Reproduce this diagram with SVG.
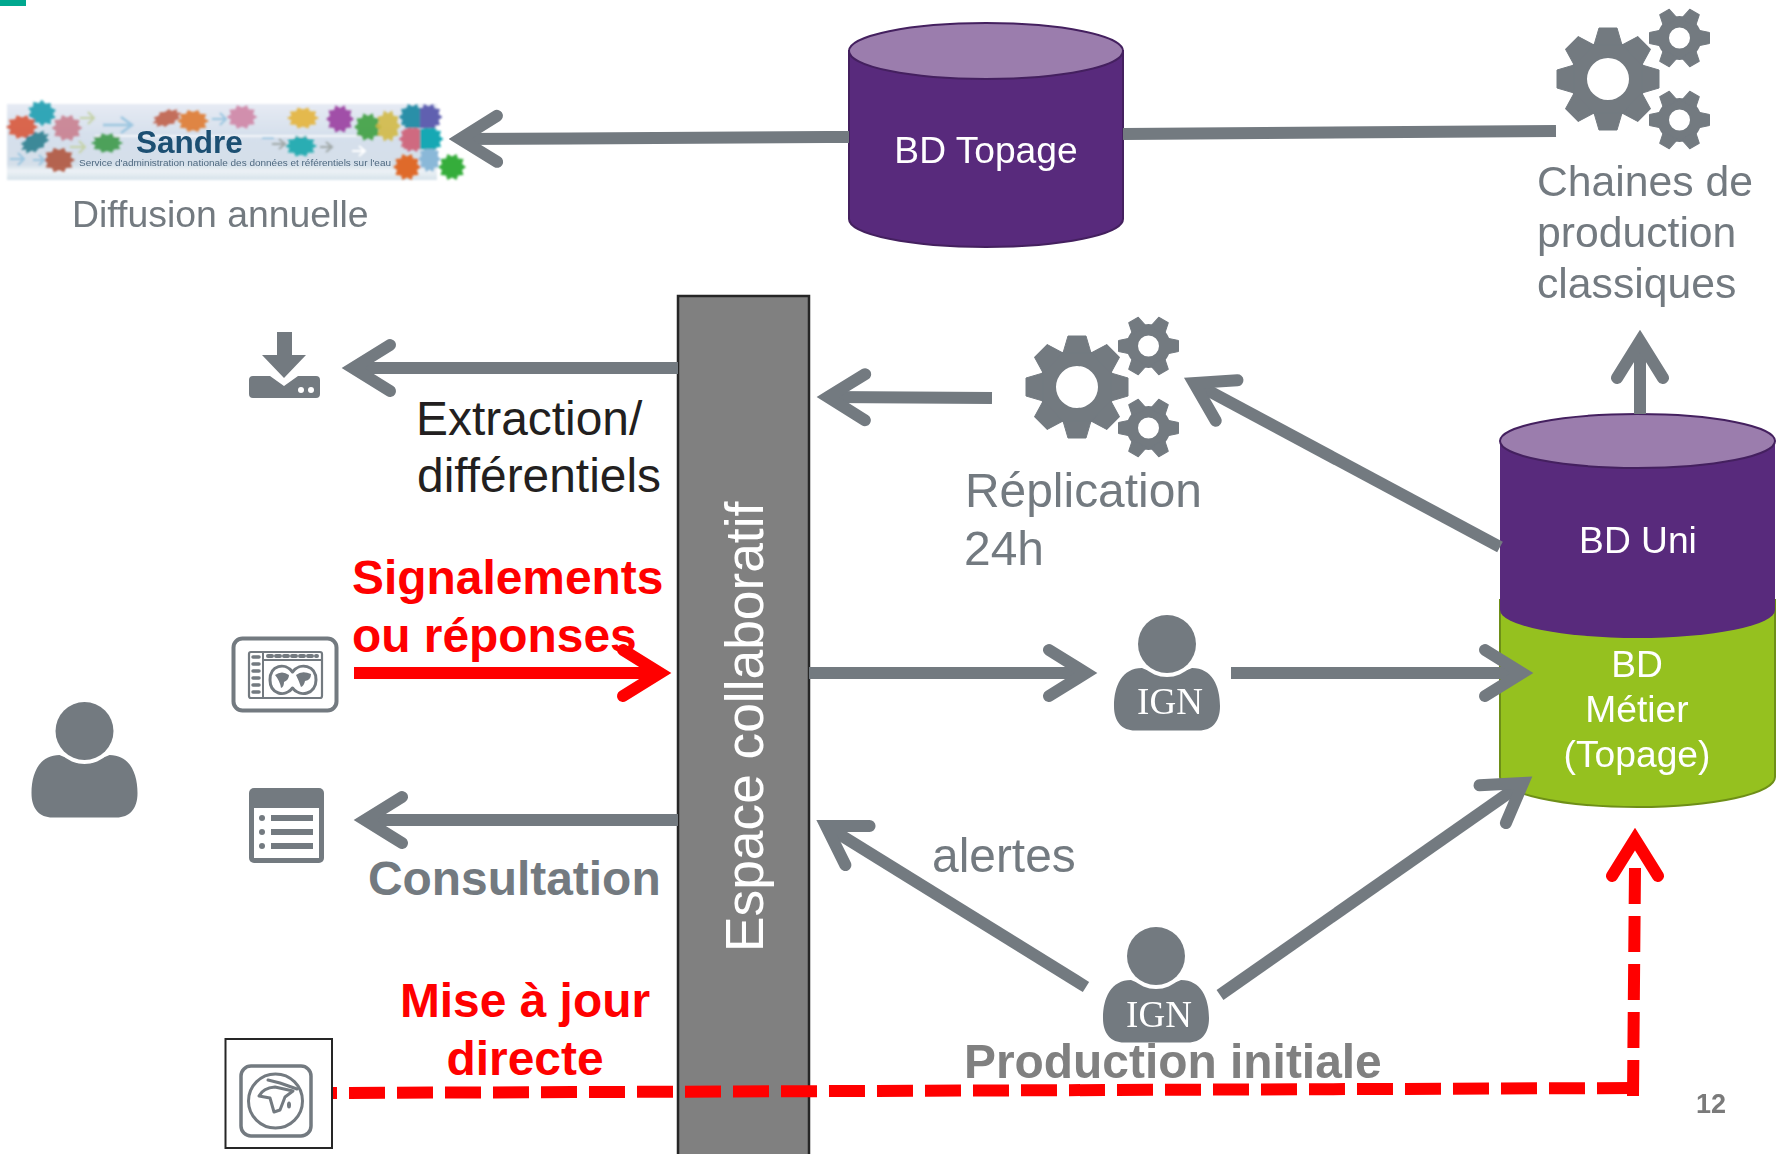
<svg xmlns="http://www.w3.org/2000/svg" width="1777" height="1154" viewBox="0 0 1777 1154">
<style>
text{font-family:"Liberation Sans",Arial,sans-serif}
.g{fill:#737a80}
.lbl{font-size:47.9px}
.b{font-weight:bold}
.red{fill:#f00}
.w{fill:#fff;font-size:37.2px;text-anchor:middle}
.ign{font-family:"Liberation Serif","Times New Roman",serif;font-size:37px;fill:#fff;text-anchor:middle}
.shaft{fill:none;stroke:#737a80;stroke-width:12}
.rshaft{fill:none;stroke:#f00;stroke-width:12}
.ic{fill:none;stroke:#737a80;stroke-linecap:round;stroke-linejoin:round}
.pz{fill-opacity:.9}
</style>
<defs>
<marker id="ah" markerUnits="userSpaceOnUse" markerWidth="100" markerHeight="100" viewBox="-60 -50 100 100" refX="0" refY="0" orient="auto"><path d="M-37,-23 L0,0 L-37,23" fill="none" stroke="#737a80" stroke-width="12" stroke-linecap="round" stroke-linejoin="miter" stroke-miterlimit="6"/></marker>
<marker id="ahr" markerUnits="userSpaceOnUse" markerWidth="100" markerHeight="100" viewBox="-60 -50 100 100" refX="0" refY="0" orient="auto"><path d="M-37,-23 L0,0 L-37,23" fill="none" stroke="#f00" stroke-width="12" stroke-linecap="round" stroke-linejoin="miter" stroke-miterlimit="6"/></marker>
<polygon id="tb" points="-9,-51 9,-51 14,-34 -14,-34" stroke="#737a80" stroke-width="1" stroke-linejoin="round"/>
<polygon id="ts" points="-5.5,-30 5.5,-30 8,-18 -8,-18" stroke="#737a80" stroke-width="1" stroke-linejoin="round"/>
<g id="gearB" class="g">
<path fill-rule="evenodd" d="M-38,0A38,38 0 1 1 38,0A38,38 0 1 1 -38,0ZM-21,0A21,21 0 1 0 21,0A21,21 0 1 0 -21,0Z"/>
<use href="#tb"/><use href="#tb" transform="rotate(45)"/><use href="#tb" transform="rotate(90)"/><use href="#tb" transform="rotate(135)"/><use href="#tb" transform="rotate(180)"/><use href="#tb" transform="rotate(225)"/><use href="#tb" transform="rotate(270)"/><use href="#tb" transform="rotate(315)"/>
</g>
<g id="gearS" class="g">
<path fill-rule="evenodd" d="M-22,0A22,22 0 1 1 22,0A22,22 0 1 1 -22,0ZM-10.5,0A10.5,10.5 0 1 0 10.5,0A10.5,10.5 0 1 0 -10.5,0Z"/>
<use href="#ts" transform="rotate(30)"/><use href="#ts" transform="rotate(90)"/><use href="#ts" transform="rotate(150)"/><use href="#ts" transform="rotate(210)"/><use href="#ts" transform="rotate(270)"/><use href="#ts" transform="rotate(330)"/>
</g>
<g id="gears"><use href="#gearB"/><use href="#gearS" x="71.5" y="-41"/><use href="#gearS" x="71.5" y="41"/></g>
<g id="person">
<path class="g" d="M-53,62C-53,42 -45,24 -25,24C-14,30 14,30 25,24C45,24 53,42 53,62C53,78 45,86.500 32,86.500L-32,86.500C-45,86.500 -53,78 -53,62Z"/>
<circle r="33" fill="#fff"/><circle r="29" class="g"/>
</g>
<polygon id="pz" points="14,0 10,3 11.5,8 6,8.500 4.500,13 0,10.500 -4.500,13 -6,8.500 -11.500,8 -10,3 -14,0 -10,-3 -11.500,-8 -6,-8.500 -4.500,-13 0,-10.500 4.500,-13 6,-8.500 11.500,-8 10,-3"/>
<linearGradient id="sg" x1="0" y1="0" x2="0" y2="1"><stop offset="0" stop-color="#e6eaf4"/><stop offset=".4" stop-color="#d6e0ec"/><stop offset=".8" stop-color="#d4dfe9"/><stop offset=".88" stop-color="#edf2f6"/><stop offset="1" stop-color="#d6e2ea"/></linearGradient>
<filter id="soft" x="-5%" y="-5%" width="110%" height="110%"><feGaussianBlur stdDeviation="1"/></filter>
<filter id="soft2" x="-5%" y="-5%" width="110%" height="110%"><feGaussianBlur stdDeviation=".45"/></filter>
</defs>

<rect width="1777" height="1154" fill="#fff"/>
<rect id="corner" width="26" height="6" fill="#00a88f"/>

<g id="sandre">
<rect x="7" y="104" width="430" height="76" fill="url(#sg)" filter="url(#soft)"/>
<g filter="url(#soft)">
<path d="M95,136H360" stroke="#f4f7fa" stroke-width="2"/>
<g class="pz">
<use href="#pz" transform="translate(42,113) rotate(20) scale(1.05,.95)" fill="#1f9fb0"/>
<use href="#pz" transform="translate(22,127) scale(1.15,.9)" fill="#d8583a"/>
<use href="#pz" transform="translate(67,128) scale(1.1,1)" fill="#c9808f"/>
<use href="#pz" transform="translate(35,142) rotate(-30) scale(1.15,.7)" fill="#2f7f8f"/>
<use href="#pz" transform="translate(59,160) scale(1.15,.95)" fill="#b0553f"/>
<use href="#pz" transform="translate(107,143) scale(1.15,.75)" fill="#3e9a4a"/>
<use href="#pz" transform="translate(167,118) rotate(-20) scale(1.1,.6)" fill="#c0604a"/>
<use href="#pz" transform="translate(193,121) scale(1.15,.85)" fill="#df7a32"/>
<use href="#pz" transform="translate(242,117) scale(1.1,.9)" fill="#cf85a5"/>
<use href="#pz" transform="translate(303,118) scale(1.15,.8)" fill="#e4b43a"/>
<use href="#pz" transform="translate(340,119) scale(1,1.05)" fill="#9a3fa0"/>
<use href="#pz" transform="translate(368,127) scale(1,1.05)" fill="#3fa040"/>
<use href="#pz" transform="translate(388,126) scale(.9,1.2)" fill="#d2b945"/>
<use href="#pz" transform="translate(301,146) scale(1.15,.8)" fill="#18a7ad"/>
</g>
<g transform="translate(420.500,128)">
<use href="#pz" transform="translate(-8,-11)" fill="#2a8fa8"/>
<use href="#pz" transform="translate(8,-11)" fill="#6060b0"/>
<use href="#pz" transform="translate(-8,11)" fill="#cf6a80"/>
<use href="#pz" transform="translate(9,11)" fill="#12a8b4"/>
<use href="#pz" transform="translate(9,31) scale(.8,1)" fill="#8ab8d8"/>
</g>
<rect x="405" y="108" width="15" height="20" fill="#2a8fa8"/>
<rect x="420" y="108" width="15" height="20" fill="#6060b0"/>
<rect x="404" y="129" width="16" height="20" fill="#cf6a80"/>
<rect x="420" y="129" width="16" height="20" fill="#12a8b4"/>
<use href="#pz" transform="translate(407,167)" fill="#df6a2a"/>
<use href="#pz" transform="translate(452,167)" fill="#36ad3a"/>
<path d="M103,125H131M121,117l11,8l-11,8" fill="none" stroke="#9cc6e0" stroke-width="2.500"/>
<path d="M80,118h13M88,112l6,6l-6,6M70,147h14M79,141l6,6l-6,6" fill="none" stroke="#c5d2a8" stroke-width="2"/>
<path d="M10,159h13M18,153l6,6l-6,6M33,160h10M39,155l5,5l-5,5M212,119h14M220,113l6,6l-6,6M262,138h12" fill="none" stroke="#9cc6e0" stroke-width="2"/>
<path d="M272,144h12M279,139l6,5l-6,5M320,147h11M326,142l6,5l-6,5" fill="none" stroke="#a0a8a8" stroke-width="2"/>
<path d="M352,151h12M359,146l6,5l-6,5" fill="none" stroke="#fff" stroke-width="2"/>
</g>
<text x="136" y="153" font-size="31.500" font-weight="bold" fill="#1b4f72" filter="url(#soft2)">Sandre</text>
<text x="79" y="166" font-size="9" textLength="312" lengthAdjust="spacingAndGlyphs" fill="#4f6a80" filter="url(#soft2)">Service d'administration nationale des données et référentiels sur l'eau</text>
</g>
<text id="diffusion" x="72" y="227" font-size="37.400" fill="#737a80">Diffusion annuelle</text>

<g id="bd-topage">
<path d="M849,51V219A137,28 0 0 0 1123,219V51Z" fill="#582a7c" stroke="#44205f" stroke-width="2"/>
<ellipse cx="986" cy="51" rx="137" ry="28" fill="#9b7dad" stroke="#44205f" stroke-width="2"/>
<text class="w" x="986" y="163">BD Topage</text>
</g>

<g id="chaines">
<use href="#gears" x="1608" y="79"/>
<text x="1537" y="196" font-size="42.700" fill="#737a80">Chaines de</text>
<text x="1537" y="247" font-size="42.700" fill="#737a80">production</text>
<text x="1537" y="298" font-size="42.700" fill="#737a80">classiques</text>
</g>

<g id="espace">
<rect x="678" y="296" width="131" height="870" fill="#808080" stroke="#262626" stroke-width="2.500"/>
<text transform="translate(763,952) rotate(-90)" font-size="53.300" fill="#fff">Espace collaboratif</text>
</g>

<g id="download" class="g">
<path d="M277,332H292V355H306L284,378L262,355H277Z"/>
<path d="M253,376H270L284,386L298,376H316Q320,376 320,380V394Q320,398 316,398H253Q249,398 249,394V380Q249,376 253,376Z"/>
<circle cx="301" cy="390" r="3" fill="#fff"/><circle cx="311" cy="390" r="3" fill="#fff"/>
</g>
<text class="lbl" x="416" y="435" fill="#231f20">Extraction/</text>
<text class="lbl" x="417" y="492" fill="#231f20">différentiels</text>

<g id="replication">
<use href="#gears" x="1077" y="387"/>
<text class="lbl" x="965" y="507" fill="#737a80">Réplication</text>
<text class="lbl" x="964" y="565" fill="#737a80">24h</text>
</g>

<g id="map-app" filter="url(#soft2)">
<rect x="233.500" y="638.500" width="103" height="72" rx="9" class="ic" stroke-width="4"/>
<rect x="249" y="652" width="73" height="46" rx="2" class="ic" stroke-width="2.200"/>
<path d="M263,652V698M263,660H322" class="ic" stroke-width="2"/>
<path d="M253,657h6M253,664h6M253,671h6M253,678h6M253,685h6M253,692h6" class="ic" stroke-width="3.500" stroke-linecap="butt"/>
<path d="M268,656h49" class="ic" stroke-width="4" stroke-dasharray="4 4" stroke-linecap="butt"/>
<path d="M270,680C270,665 285,662 292.500,672C300,662 316,665 316,680C316,694 300,698 292.500,688C285,698 270,694 270,680Z" class="ic" stroke-width="3"/>
<path d="M275,675q7,-5 14,0q0,5 -5,7q0,5 -3,6q-1,-7 -6,-13ZM296,675q6,-5 15,-1q0,6 -6,7q-1,5 -4,6q-2,-6 -5,-12Z" class="g"/>
</g>

<g id="user"><use href="#person" x="84.500" y="731"/></g>

<g id="list">
<rect x="249" y="788" width="75" height="75" rx="5" class="g"/>
<rect x="254" y="808" width="65" height="50" fill="#fff"/>
<circle cx="262" cy="818" r="3" class="g"/><circle cx="262" cy="832" r="3" class="g"/><circle cx="262" cy="846" r="3" class="g"/>
<rect x="271" y="815" width="42" height="6" class="g"/><rect x="271" y="829" width="42" height="6" class="g"/><rect x="271" y="843" width="42" height="6" class="g"/>
</g>

<text class="lbl b" x="368" y="895" fill="#737a80">Consultation</text>
<text class="lbl b red" x="352" y="594">Signalements</text>
<text class="lbl b red" x="352" y="652">ou réponses</text>
<text class="lbl b red" x="525" y="1017" text-anchor="middle">Mise à jour</text>
<text class="lbl b red" x="525" y="1075" text-anchor="middle">directe</text>

<g id="globe-app">
<rect x="225.500" y="1039" width="106.500" height="109" fill="#fff" stroke="#262626" stroke-width="2"/>
<g filter="url(#soft2)">
<rect x="241" y="1066" width="70" height="70" rx="10" class="ic" stroke-width="3.500"/>
<circle cx="275.500" cy="1101" r="27" class="ic" stroke-width="3"/>
<path d="M259,1096Q263,1088 275,1087L293,1091L285,1097L280,1110L274,1112L270,1098Z" class="ic" stroke-width="3"/>
<path d="M268,1080L280,1083L297,1089" class="ic" stroke-width="3"/>
<ellipse cx="289" cy="1105" rx="2" ry="3.500" class="g"/>
</g>
</g>

<g id="ign-top">
<use href="#person" x="1167" y="644"/>
<text class="ign" x="1170" y="714">IGN</text>
</g>
<g id="ign-bottom">
<use href="#person" x="1156" y="956"/>
<text class="ign" x="1159" y="1027">IGN</text>
</g>

<text class="lbl" x="932" y="872" fill="#737a80">alertes</text>
<text class="lbl b" x="964" y="1078" fill="#808080">Production initiale</text>
<text id="page" x="1696" y="1113" font-size="27" font-weight="bold" fill="#7a7a7a">12</text>

<g id="bd-metier">
<path d="M1500,600V777A137.500,30 0 0 0 1775,777V600Z" fill="#95c11f" stroke="#6e8f17" stroke-width="2"/>
<text class="w" x="1637" y="677">BD</text>
<text class="w" x="1637" y="722">Métier</text>
<text class="w" x="1637" y="767">(Topage)</text>
</g>
<g id="bd-uni">
<path d="M1500,441V610A137.500,28 0 0 0 1775,610V441Z" fill="#582a7c"/>
<ellipse cx="1637.500" cy="441" rx="137.500" ry="27" fill="#9b7dad" stroke="#44205f" stroke-width="2"/>
<text class="w" x="1638" y="553">BD Uni</text>
</g>

<g id="connectors">
<path class="shaft" d="M849,137L460,139" marker-end="url(#ah)"/>
<path class="shaft" d="M1123,134L1556,131"/>
<path class="shaft" d="M1640,414V341" marker-end="url(#ah)"/>
<path class="shaft" d="M678,368H353" marker-end="url(#ah)"/>
<path class="shaft" d="M992,398L828,397" marker-end="url(#ah)"/>
<path class="shaft" d="M1500,547L1194,383" marker-end="url(#ah)"/>
<path class="rshaft" d="M354,673H660" marker-end="url(#ahr)"/>
<path class="shaft" d="M809,673H1086" marker-end="url(#ah)"/>
<path class="shaft" d="M1231,673H1522" marker-end="url(#ah)"/>
<path class="shaft" d="M678,820H365" marker-end="url(#ah)"/>
<path class="shaft" d="M1086,987L826,826" marker-end="url(#ah)"/>
<path class="shaft" d="M1220,995L1523,783" marker-end="url(#ah)"/>
<path class="rshaft" d="M333,1093L1633,1088" stroke-dasharray="36 12" stroke-dashoffset="32"/>
<path class="rshaft" d="M1633,1096L1635,868" stroke-dasharray="36 12"/>
<path class="rshaft" d="M1635,841V839" marker-end="url(#ahr)"/>
</g>
</svg>
